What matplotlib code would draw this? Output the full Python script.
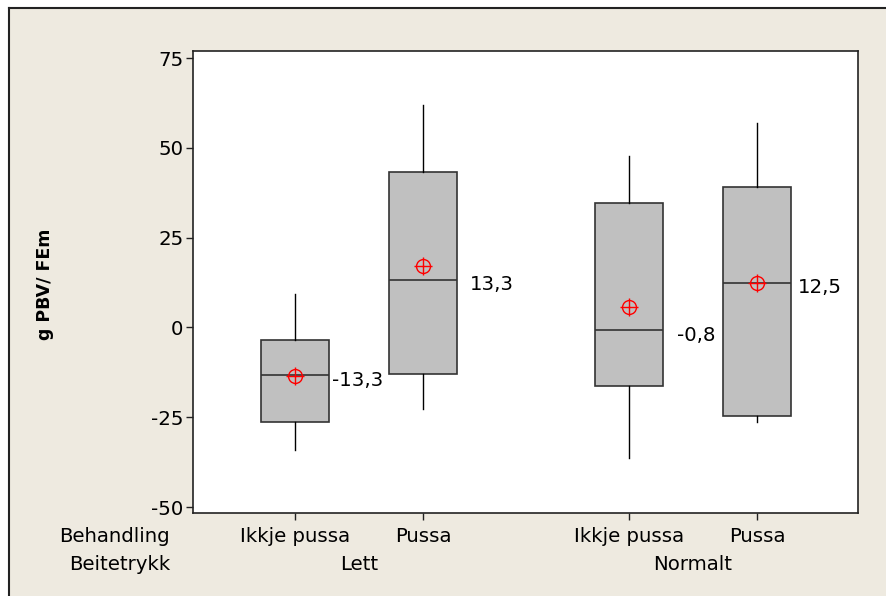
import matplotlib.pyplot as plt
from matplotlib.patches import Rectangle
from matplotlib.lines import Line2D
from matplotlib.transforms import blended_transform_factory

# data
behandling = ["Ikkje pussa", "Pussa", "Ikkje pussa", "Pussa"]
beitetrykk = ["Lett", "Normalt"]
positions = [1, 2, 3.61, 4.61]
whislo = [-34.1, -22.7, -36.4, -26.3]
q1 = [-26.3, -13.0, -16.3, -24.7]
med = [-13.3, 13.3, -0.8, 12.5]
q3 = [-3.5, 43.4, 34.7, 39.1]
whishi = [9.3, 62.0, 47.8, 57.0]
mean = [-13.6, 17.1, 5.7, 12.3]
yticks = [-50, -25, 0, 25, 50, 75]

W, H = 886, 596
FS = 14.2
fig = plt.figure(figsize=(W / 100, H / 100), dpi=100, facecolor="white")

# beige panel with top/left border
fig.patches.append(Rectangle((9 / W, 0), 1, (H - 8) / H, transform=fig.transFigure,
                             facecolor="#EEEAE0", edgecolor="none", zorder=-10))
fig.lines.append(Line2D([8.5 / W, 8.5 / W], [0, (H - 7.5) / H], transform=fig.transFigure,
                        color="#222222", lw=1.5))
fig.lines.append(Line2D([8.5 / W, 1], [(H - 7.5) / H, (H - 7.5) / H], transform=fig.transFigure,
                        color="#222222", lw=1.5))

ax = fig.add_axes([193 / W, 83 / H, (858 - 193) / W, (513 - 51) / H])
ax.set_facecolor("white")

stats = []
for i in range(len(positions)):
    stats.append(dict(whislo=whislo[i], q1=q1[i], med=med[i], q3=q3[i],
                      whishi=whishi[i], fliers=[]))

ax.bxp(stats, positions=positions, widths=0.53, patch_artist=True, showcaps=False,
       boxprops=dict(facecolor="#C0C0C0", edgecolor="#333333", lw=1.2),
       whiskerprops=dict(color="black", lw=1.0),
       medianprops=dict(color="#333333", lw=1.2))

# mean symbols: circle with cross
ax.plot(positions, mean, ls="none", marker="o", ms=10, mfc="none", mec="red", mew=1.0, zorder=5)
ax.plot(positions, mean, ls="none", marker="+", ms=13, mec="red", mew=1.0, zorder=5)

# median labels
dx = [3, 13, 14, 7]
for i in range(len(positions)):
    lbl = ("%.1f" % med[i]).replace(".", ",")
    ax.annotate(lbl, (positions[i] + 0.265, med[i]), xytext=(dx[i], -5),
                textcoords="offset pixels", ha="left", va="center", fontsize=FS)

ax.set_xlim(0.203, 5.40)
ax.set_ylim(-51.67, 76.95)
ax.set_yticks(yticks)
ax.set_yticklabels([str(t) for t in yticks])
ax.set_xticks(positions)
ax.set_xticklabels(behandling)
ax.tick_params(axis="both", direction="out", length=5, width=1, labelsize=FS, color="#222222")
ax.tick_params(axis="x", pad=5)
ax.tick_params(axis="y", pad=2)
for s in ax.spines.values():
    s.set_color("#222222")
    s.set_linewidth(1.2)

fig.text(45 / W, (H - 284) / H, "g PBV/ FEm", rotation=90, ha="center", va="center",
         fontsize=12.5, fontweight="bold")

# second header row
tr = blended_transform_factory(ax.transData, fig.transFigure)
ax.text((positions[0] + positions[1]) / 2, (H - 564) / H, beitetrykk[0], transform=tr,
        ha="center", va="center", fontsize=FS)
ax.text((positions[2] + positions[3]) / 2, (H - 564) / H, beitetrykk[1], transform=tr,
        ha="center", va="center", fontsize=FS)
fig.text(170 / W, (H - 536) / H, "Behandling", ha="right", va="center", fontsize=FS)
fig.text(170 / W, (H - 564) / H, "Beitetrykk", ha="right", va="center", fontsize=FS)

fig.savefig("out.png", dpi=100, facecolor=fig.get_facecolor())
